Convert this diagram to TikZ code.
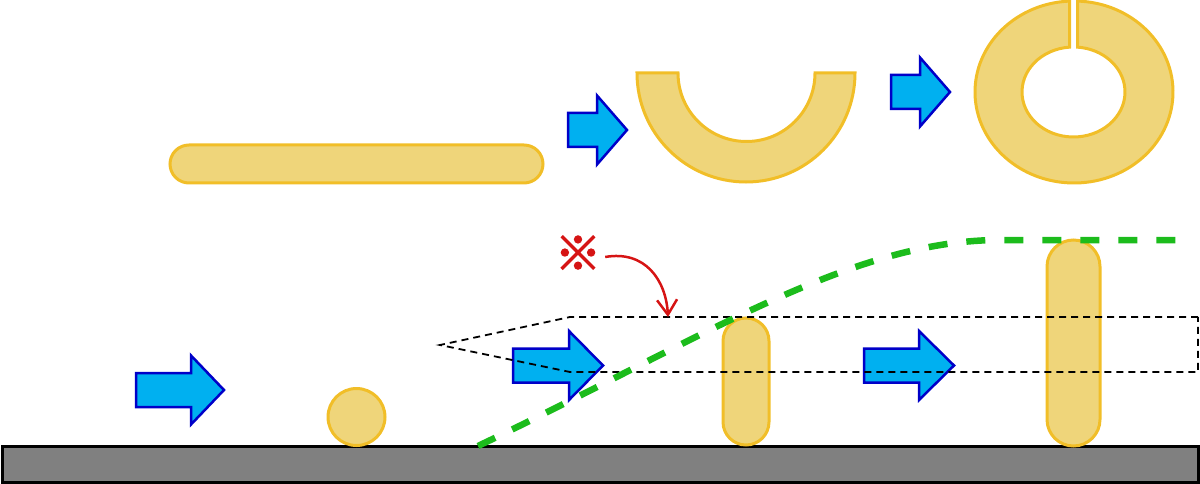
\documentclass[tikz,border=0pt]{standalone}
\usepackage{fontspec}
\newfontfamily\cjkfont{Noto Sans CJK JP}[FakeBold=3]
\usetikzlibrary{arrows.meta}
\definecolor{goldfill}{RGB}{239,213,122}
\definecolor{goldline}{RGB}{241,190,40}
\definecolor{bluefill}{RGB}{0,176,240}
\definecolor{blueline}{RGB}{0,0,200}
\definecolor{grn}{RGB}{28,188,28}
\definecolor{redmark}{RGB}{214,20,20}
\tikzset{
  gold/.style={fill=goldfill, draw=goldline, line width=3pt},
  barrow/.style={fill=bluefill, draw=blueline, line width=2.5pt, line join=miter},
  ground/.style={fill=black!50, draw=black, line width=3pt},
  guide/.style={draw=black, line width=1.8pt, dash pattern=on 7pt off 5pt},
  growth/.style={draw=grn, line width=6.5pt, dash pattern=on 19pt off 19pt},
  note/.style={draw=redmark, line width=2.5pt, -{Straight Barb[length=15pt,width=20pt,line width=2.5pt]}}
}
\newcommand{\bluearrow}[4]{%
  \draw[barrow] (#1,#4-17) -- (#2,#4-17) -- (#2,#4-34.5) -- (#3,#4) -- (#2,#4+34.5) -- (#2,#4+17) -- (#1,#4+17) -- cycle;}
\begin{document}
\begin{tikzpicture}[x=1pt,y=-1pt]
\useasboundingbox (0,0) rectangle (1200,484);
% ground
\draw[ground] (2,446) rectangle (1198,482);
% top row: rod
\draw[gold, rounded corners=19pt] (170,145) rectangle (543,183);
\bluearrow{568}{597}{627}{130}
% half ring
\draw[gold] (855,73) arc[start angle=0, end angle=180, radius=109]
  -- (678,73) arc[start angle=180, end angle=0, radius=68.5] -- cycle;
\bluearrow{891}{920}{950}{92}
% split ring
\draw[gold] (1074,92) ++(272.03:99 and 91)
  arc[start angle=272.03, end angle=627.39, x radius=99, y radius=91]
  -- (1069.5,47.14)
  arc[start angle=625.54, end angle=274.46, x radius=51.5, y radius=45] -- cycle;
% bottom row
\bluearrow{136}{191}{224}{390}
\draw[gold] (356.5,417) circle[radius=28.5];
\bluearrow{513}{569}{603}{365.5}
\draw[gold, rounded corners=23pt] (723,318) rectangle (769,445);
\bluearrow{864}{919}{954}{365.5}
\draw[gold, rounded corners=26.5pt] (1047,240) rectangle (1100,446);
% guide region
\draw[guide] (1198,317) -- (570,317) -- (440,345) -- (570,372) -- (1198,372) -- cycle;
% growth curve
\coordinate (g0) at (478,446);
\coordinate (g1) at (1000,240);
\coordinate (g2) at (1185,240);
\draw[growth] (g0) .. controls (700,340) and (850,240) .. (g1) -- (g2);
% note mark
\node[text=redmark, inner sep=0pt, font=\cjkfont\fontsize{46}{46}\selectfont] (mark) at (578,253) {※};
\coordinate (tgt) at (668,317);
\draw[note] ([xshift=4pt,yshift=-4pt]mark.east) .. controls (645,250) and (666,280) .. (tgt);
\end{tikzpicture}
\end{document}
